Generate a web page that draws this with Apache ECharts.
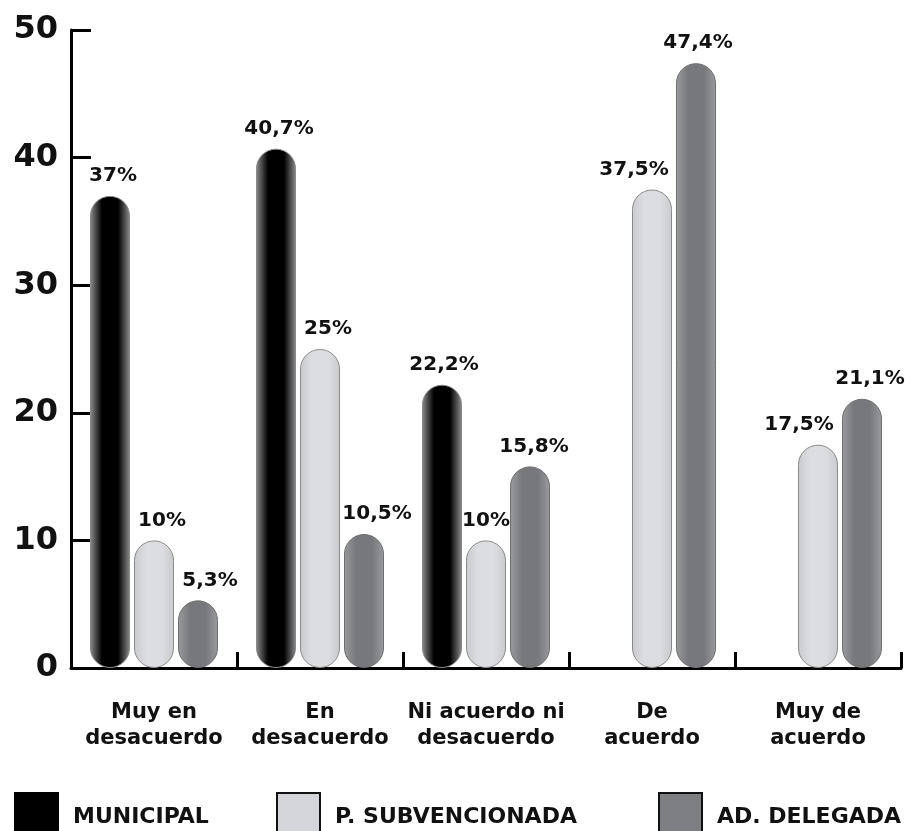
<!DOCTYPE html>
<html>
<head>
<meta charset="utf-8">
<script src="https://cdn.jsdelivr.net/npm/echarts@6/dist/echarts.min.js"></script>
<style>
  html, body { margin: 0; padding: 0; background: #fff; }
  #chart { width: 910px; height: 831px; }
</style>
</head>
<body>
<div id="chart"></div>
<script>
const categories = ['Muy en\ndesacuerdo', 'En\ndesacuerdo', 'Ni acuerdo ni\ndesacuerdo', 'De\nacuerdo', 'Muy de\nacuerdo']
const seriesNames = ['MUNICIPAL', 'P. SUBVENCIONADA', 'AD. DELEGADA']
const municipal = [37, 40.7, 22.2, null, null]
const subvencionada = [10, 25, 10, 37.5, 17.5]
const delegada = [5.3, 10.5, 15.8, 47.4, 21.1]
const yTicks = [0, 10, 20, 30, 40, 50]

// small horizontal nudges of the value labels, as in the picture
const labelNudge = [
  [3, 3, 2, 0, 0],
  [8, 8, 0, -18, -19],
  [12, 13, 4, 2, 8]
]
// legend blocks are spread out along the bottom
const legendLeft = [9, 271, 653]

const FONT = '"DejaVu Sans", sans-serif'

const grad = (edge, mid) => ({
  type: 'linear', x: 0, y: 0, x2: 1, y2: 0,
  colorStops: [
    { offset: 0, color: edge },
    { offset: 0.3, color: mid },
    { offset: 0.7, color: mid },
    { offset: 1, color: edge }
  ]
})

const styles = [
  { color: grad('#8c8d90', '#000000'), borderColor: '#8a8a8a', legend: '#000000', legendBorder: '#000000' },
  { color: grad('#c9cacd', '#dcdde0'), borderColor: '#8a8a8a', legend: '#d4d5d8', legendBorder: '#111111' },
  { color: grad('#9a9b9e', '#77787c'), borderColor: '#6e6e6e', legend: '#7e7f83', legendBorder: '#111111' }
]

const fmt = v => String(v).replace('.', ',') + '%'

const chart = echarts.init(document.getElementById('chart'))

const series = [municipal, subvencionada, delegada].map((arr, si) => ({
  name: seriesNames[si],
  type: 'bar',
  barWidth: 40,
  barGap: '10%',
  itemStyle: {
    color: styles[si].color,
    borderColor: styles[si].borderColor,
    borderWidth: 1,
    borderRadius: 20
  },
  label: {
    show: true,
    position: 'top',
    distance: 10,
    color: '#111',
    fontFamily: FONT,
    fontWeight: 'bold',
    fontSize: 20,
    formatter: p => fmt(p.value)
  },
  data: arr.map((v, i) => ({
    value: v,
    label: { offset: [labelNudge[si][i], 0] }
  }))
}))

const legends = seriesNames.map((n, i) => ({
  left: legendLeft[i],
  top: 787,
  itemWidth: 43,
  itemHeight: 44,
  icon: 'rect',
  selectedMode: false,
  formatter: name => '{t|' + name + '}',
  textStyle: {
    rich: {
      t: {
        color: '#111',
        fontFamily: FONT,
        fontWeight: 'bold',
        fontSize: 22,
        padding: [5, 0, 0, 10]
      }
    }
  },
  data: [{
    name: n,
    itemStyle: { color: styles[i].legend, borderColor: styles[i].legendBorder, borderWidth: 2 }
  }]
}))

chart.setOption({
  animation: false,
  grid: { left: 71, right: 9, top: 30, bottom: 163 },
  legend: legends,
  xAxis: {
    type: 'category',
    data: categories,
    axisLine: { lineStyle: { color: '#000', width: 3 } },
    axisTick: { show: true, inside: true, length: 16, lineStyle: { color: '#000', width: 3 } },
    axisLabel: {
      margin: 32,
      color: '#111',
      fontFamily: FONT,
      fontWeight: 'bold',
      fontSize: 21,
      lineHeight: 26,
      interval: 0
    }
  },
  yAxis: {
    type: 'value',
    min: yTicks[0],
    max: yTicks[yTicks.length - 1],
    interval: 10,
    axisLine: { show: true, lineStyle: { color: '#000', width: 3 } },
    axisTick: { show: true, inside: true, length: 20, lineStyle: { color: '#000', width: 3 } },
    splitLine: { show: false },
    axisLabel: {
      margin: 13,
      color: '#111',
      fontFamily: FONT,
      fontWeight: 'bold',
      fontSize: 32
    }
  },
  series
})
</script>
</body>
</html>
